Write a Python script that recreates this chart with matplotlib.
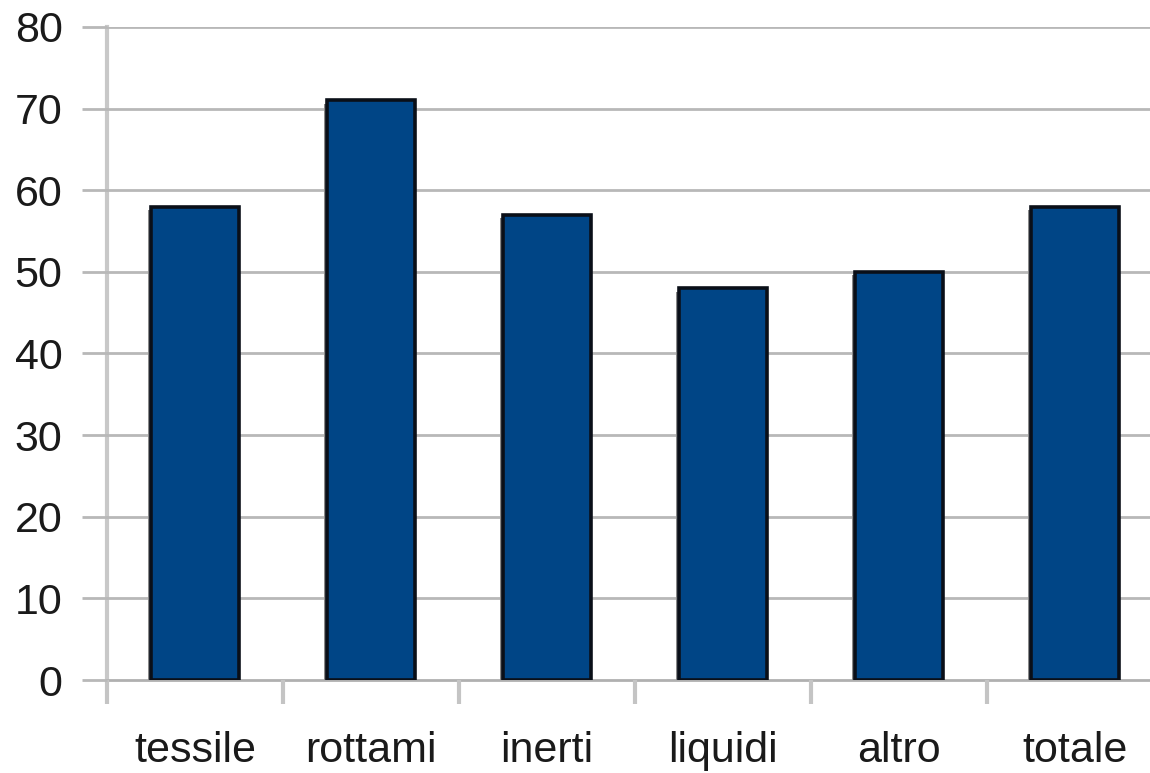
import matplotlib.pyplot as plt
import matplotlib.patheffects as pe
import numpy as np

# data
categories = ["tessile", "rottami", "inerti", "liquidi", "altro", "totale"]
values = [58, 71, 57, 48, 50, 58]
y_ticks = [0, 10, 20, 30, 40, 50, 60, 70, 80]

plt.rcParams["font.family"] = ["Liberation Sans", "DejaVu Sans"]

fig = plt.figure(figsize=(11.5, 7.73), dpi=100)
# the plot area runs past the right edge of the picture, as in the reference
ax = fig.add_axes([107 / 1150, 93 / 773, 1056 / 1150, 653 / 773])

x = np.arange(len(categories))
bars = ax.bar(x, values, width=0.5, color="#004586", edgecolor="#0a0f18",
              linewidth=2.6, zorder=3)
for b in bars:
    b.set_path_effects([
        pe.SimplePatchShadow(offset=(-2.5, -2.5), shadow_rgbFace="#8a8a8a", alpha=1.0),
        pe.Normal(),
    ])

ax.set_xlim(-0.5, len(categories) - 0.5)
ax.set_ylim(0, 80)

# horizontal grid, extended a little to the left of the axis as tick marks
ax.set_yticks(y_ticks)
ax.yaxis.grid(True, color="#b8b8b8", linewidth=2.0, zorder=0)
ax.tick_params(axis="y", length=18, width=2.0, color="#b8b8b8", pad=14,
               labelsize=31, labelcolor="#1a1a1a")

# category labels in the middle, ticks at the category boundaries
ax.set_xticks(x)
ax.set_xticklabels(categories)
ax.set_xticks(np.arange(-0.5, len(categories), 1.0), minor=True)
ax.tick_params(axis="x", which="major", length=0, pad=37, labelsize=31,
               labelcolor="#1a1a1a")
ax.tick_params(axis="x", which="minor", length=17, width=3.0, color="#c4c4c4")

for side in ["top", "right"]:
    ax.spines[side].set_visible(False)
ax.spines["left"].set_color("#c8c8c8")
ax.spines["left"].set_linewidth(3.0)
ax.spines["bottom"].set_color("#b0b0b0")
ax.spines["bottom"].set_linewidth(2.0)
ax.spines["left"].set_zorder(1)
ax.spines["bottom"].set_zorder(1)

fig.savefig("out.png", dpi=100)
